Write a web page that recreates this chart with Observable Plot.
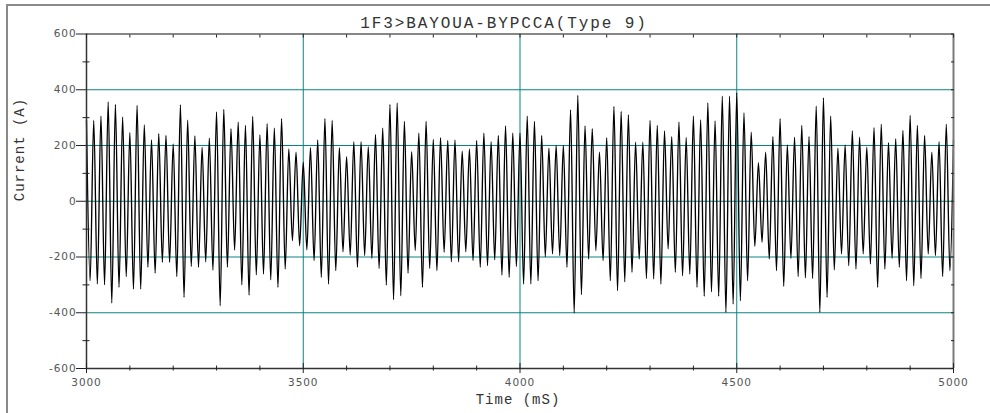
<!DOCTYPE html>
<html><head><meta charset="utf-8">
<script src="https://cdn.jsdelivr.net/npm/d3@7"></script>
<script src="https://cdn.jsdelivr.net/npm/@observablehq/plot@0.6"></script>
<style>
html,body{margin:0;padding:0;background:#fff;overflow:hidden;width:990px;height:413px}
#wrap{position:relative;width:990px;height:413px;overflow:hidden}
#border{position:absolute;left:6px;top:4px;width:1200px;height:600px;border-left:2px solid #8a8a8a;border-top:2px solid #8a8a8a;pointer-events:none}
#chart svg{display:block}
</style></head><body>
<div id="wrap"><div id="chart"></div><div id="border"></div></div>
<script>
const title = "1F3>BAYOUA-BYPCCA(Type 9)";
const xLabel = "Time (mS)";
const yLabel = "Current (A)";
const startTime = 3000;
const cyclePeriod = 2000 / 120; // ms, 60 Hz sampling of peaks
const peakValues = [290,290,305,356,347,302,246,344,274,220,242,236,206,346,291,234,194,226,320,329,
  260,284,272,304,238,278,262,296,188,176,140,192,220,296,290,192,160,214,214,196,
  240,262,347,353,286,178,244,286,222,228,218,220,180,188,218,244,214,236,270,244,
  244,305,286,236,190,200,200,328,380,270,260,176,228,340,322,310,212,212,290,272,
  252,232,284,228,305,292,353,288,377,377,389,317,248,138,176,232,296,202,230,272,
  232,341,371,305,190,202,252,230,194,264,276,210,224,254,308,272,236,176,214,276,220];
const troughValues = [-285,-297,-300,-365,-309,-270,-315,-315,-237,-258,-219,-219,-270,-345,-234,-237,-217,-247,-375,-237,
  -175,-300,-337,-264,-261,-282,-309,-243,-141,-159,-174,-213,-273,-297,-249,-181,-193,-237,-195,-205,
  -241,-301,-353,-339,-258,-177,-309,-241,-249,-183,-217,-217,-181,-213,-237,-231,-210,-265,-273,-234,
  -297,-297,-285,-199,-189,-195,-237,-401,-335,-207,-177,-213,-285,-321,-289,-255,-207,-277,-279,-297,
  -171,-255,-267,-261,-309,-341,-325,-341,-399,-369,-357,-285,-162,-147,-207,-249,-305,-205,-270,-275,
  -277,-399,-345,-246,-189,-231,-243,-189,-225,-309,-243,-205,-237,-285,-303,-277,-189,-195,-270,-249];
const xDomain = [3000, 5000];
const yDomain = [-600, 600];
const xMajorTicks = [3000, 3500, 4000, 4500, 5000];
const xMinorTicks = [3100,3200,3300,3400,3600,3700,3800,3900,4100,4200,4300,4400,4600,4700,4800,4900];
const xAllTicks = [3000,3100,3200,3300,3400,3500,3600,3700,3800,3900,4000,4100,4200,4300,4400,4500,4600,4700,4800,4900,5000];
const yMajorTicks = [-600, -400, -200, 0, 200, 400, 600];
const yMinorTicks = [-500, -300, -100, 100, 300, 500];
const yAllTicks = [-600,-500,-400,-300,-200,-100,0,100,200,300,400,500,600];
const xGrid = [3500, 4000, 4500];
const yGrid = [-400, -200, 0, 200, 400];

const points = [];
peakValues.forEach((p, i) => {
  points.push({t: startTime + i * cyclePeriod, v: p});
  if (i < troughValues.length) points.push({t: startTime + (i + 0.5) * cyclePeriod, v: troughValues[i]});
});

const teal = "#0a8383";
const axisInk = "#222";
const mono = "'Liberation Mono', 'Courier New', 'DejaVu Sans Mono', monospace";
const chart = Plot.plot({
  width: 990, height: 413,
  marginLeft: 86, marginRight: 37, marginTop: 33.5, marginBottom: 45,
  x: {domain: xDomain},
  y: {domain: yDomain},
  style: {fontFamily: "DejaVu Sans", background: "transparent"},
  marks: [
    Plot.ruleY(yGrid, {stroke: teal, strokeWidth: 1}),
    Plot.ruleX(xGrid, {stroke: teal, strokeWidth: 1}),
    Plot.line(points, {x: "t", y: "v", curve: "monotone-x", stroke: "#000", strokeWidth: 1.35}),
    // frame lines
    Plot.ruleY([yDomain[1]], {stroke: "#111", strokeWidth: 1.2}),
    Plot.ruleX([xDomain[1]], {stroke: "#7a7a7a", strokeWidth: 2}),
    Plot.ruleX([xDomain[0]], {stroke: "#333", strokeWidth: 1.5}),
    Plot.ruleY([yDomain[0]], {stroke: "#333", strokeWidth: 1.5}),
    // left axis
    Plot.axisY({anchor: "left", ticks: yMajorTicks, tickSize: 10, tickPadding: 0, stroke: axisInk,
      tickFormat: d => String(d), fontSize: 10.5, fill: "#555", label: null}),
    Plot.axisY({anchor: "left", ticks: yMinorTicks, tickSize: 7, dx: 3.5, text: null, stroke: axisInk, label: null}),
    // right axis (inner ticks)
    Plot.axisY({anchor: "right", ticks: yAllTicks, tickSize: 3, dx: -3, text: null, stroke: axisInk, label: null}),
    // bottom axis
    Plot.axisX({anchor: "bottom", ticks: xMajorTicks, tickSize: 10, dy: -5, text: null, stroke: axisInk, label: null}),
    Plot.axisX({anchor: "bottom", ticks: xMinorTicks, tickSize: 5, dy: -2.5, text: null, stroke: axisInk, label: null}),
    Plot.axisX({anchor: "bottom", ticks: xMajorTicks, tickSize: 0, tickPadding: 10, tickFormat: d => String(d),
      fontSize: 10.5, fill: "#555", label: null}),
    // top axis (inner ticks)
    Plot.axisX({anchor: "top", ticks: xAllTicks, tickSize: 3, dy: 3, text: null, stroke: axisInk, label: null}),
    // texts
    Plot.text([title], {text: d => d, frameAnchor: "top", dx: -16, dy: -17, fontSize: 16, fill: "#333"}),
    Plot.text([xLabel], {text: d => d, frameAnchor: "bottom", dx: -2, dy: 35, fontSize: 14, fill: "#333"}),
    Plot.text([yLabel], {text: d => d, frameAnchor: "left", dx: -67, rotate: -90, fontSize: 14, fill: "#333"})
  ]
});
document.getElementById("chart").appendChild(chart);
const svg = d3.select(chart);
svg.selectAll('g[aria-label="y-axis tick label"] text, g[aria-label="x-axis tick label"] text').attr("letter-spacing", "0.9");
svg.selectAll("text").filter(function(){ return this.textContent === title; })
  .style("font-family", mono).attr("letter-spacing", "1.9");
svg.selectAll("text").filter(function(){ return this.textContent === xLabel || this.textContent === yLabel; })
  .style("font-family", mono).attr("letter-spacing", "1");
</script>
</body></html>
